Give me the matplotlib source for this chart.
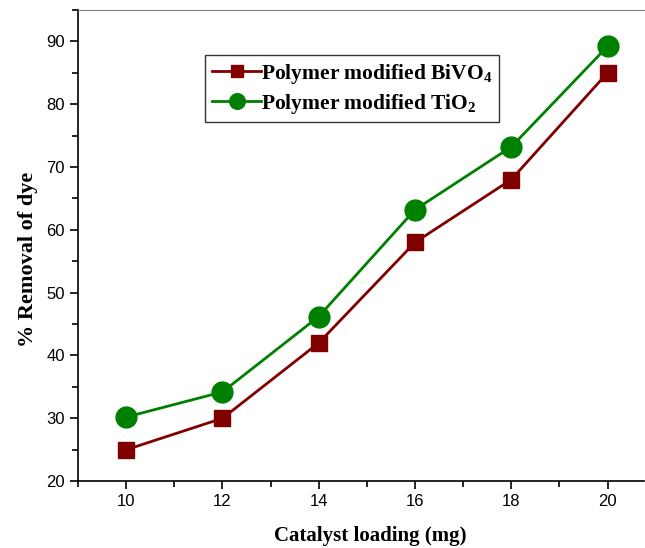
import matplotlib.pyplot as plt
from matplotlib.ticker import MultipleLocator

loading = [10, 12, 14, 16, 18, 20]
bivo4 = [25, 30, 42, 58, 68, 85]
tio2 = [30.2, 34.2, 46.2, 63.2, 73.2, 89.2]

plt.rcParams["mathtext.fontset"] = "custom"
plt.rcParams["mathtext.bf"] = "Liberation Serif:bold"

fig = plt.figure(figsize=(6.45, 5.48), dpi=100)
ax = fig.add_axes([0.121, 0.122, 0.877, 0.86])

ax.plot(loading, bivo4, "-s", color="#800000", lw=2, ms=12,
        label=r"Polymer modified BiVO$_\mathbf{4}$")
ax.plot(loading, tio2, "-o", color="#008000", lw=2, ms=15,
        label=r"Polymer modified TiO$_\mathbf{2}$")

ax.set_xlim(9, 20.75)
ax.set_ylim(20, 95)
ax.xaxis.set_major_locator(MultipleLocator(2))
ax.xaxis.set_minor_locator(MultipleLocator(1))
ax.yaxis.set_major_locator(MultipleLocator(10))
ax.yaxis.set_minor_locator(MultipleLocator(5))
ax.tick_params(which="both", direction="out", width=1.2)
ax.tick_params(which="major", length=6, labelsize=12)
ax.tick_params(which="minor", length=4)
for lab in ax.get_xticklabels() + ax.get_yticklabels():
    lab.set_family("Liberation Sans")

ax.spines["right"].set_visible(False)
ax.spines["top"].set_color("gray")
ax.spines["left"].set_linewidth(1.2)
ax.spines["bottom"].set_linewidth(1.2)

ax.set_xlabel("Catalyst loading (mg)", family="Liberation Serif",
              weight="bold", fontsize=15, labelpad=12)
ax.set_ylabel("% Removal of dye", family="Liberation Serif",
              weight="bold", fontsize=16, labelpad=6)
ax.xaxis.label.set_x(0.517)
ax.yaxis.label.set_y(0.47)

leg = ax.legend(loc="upper left", bbox_to_anchor=(0.225, 0.904),
                prop={"family": "Liberation Serif", "weight": "bold", "size": 15.5},
                frameon=True, fancybox=False, edgecolor="black",
                handlelength=2.3, handletextpad=0.0, borderpad=0.3,
                labelspacing=0.3, borderaxespad=0.0, markerscale=0.75)
leg.get_frame().set_linewidth(1.0)

fig.savefig("out.png", dpi=100)
